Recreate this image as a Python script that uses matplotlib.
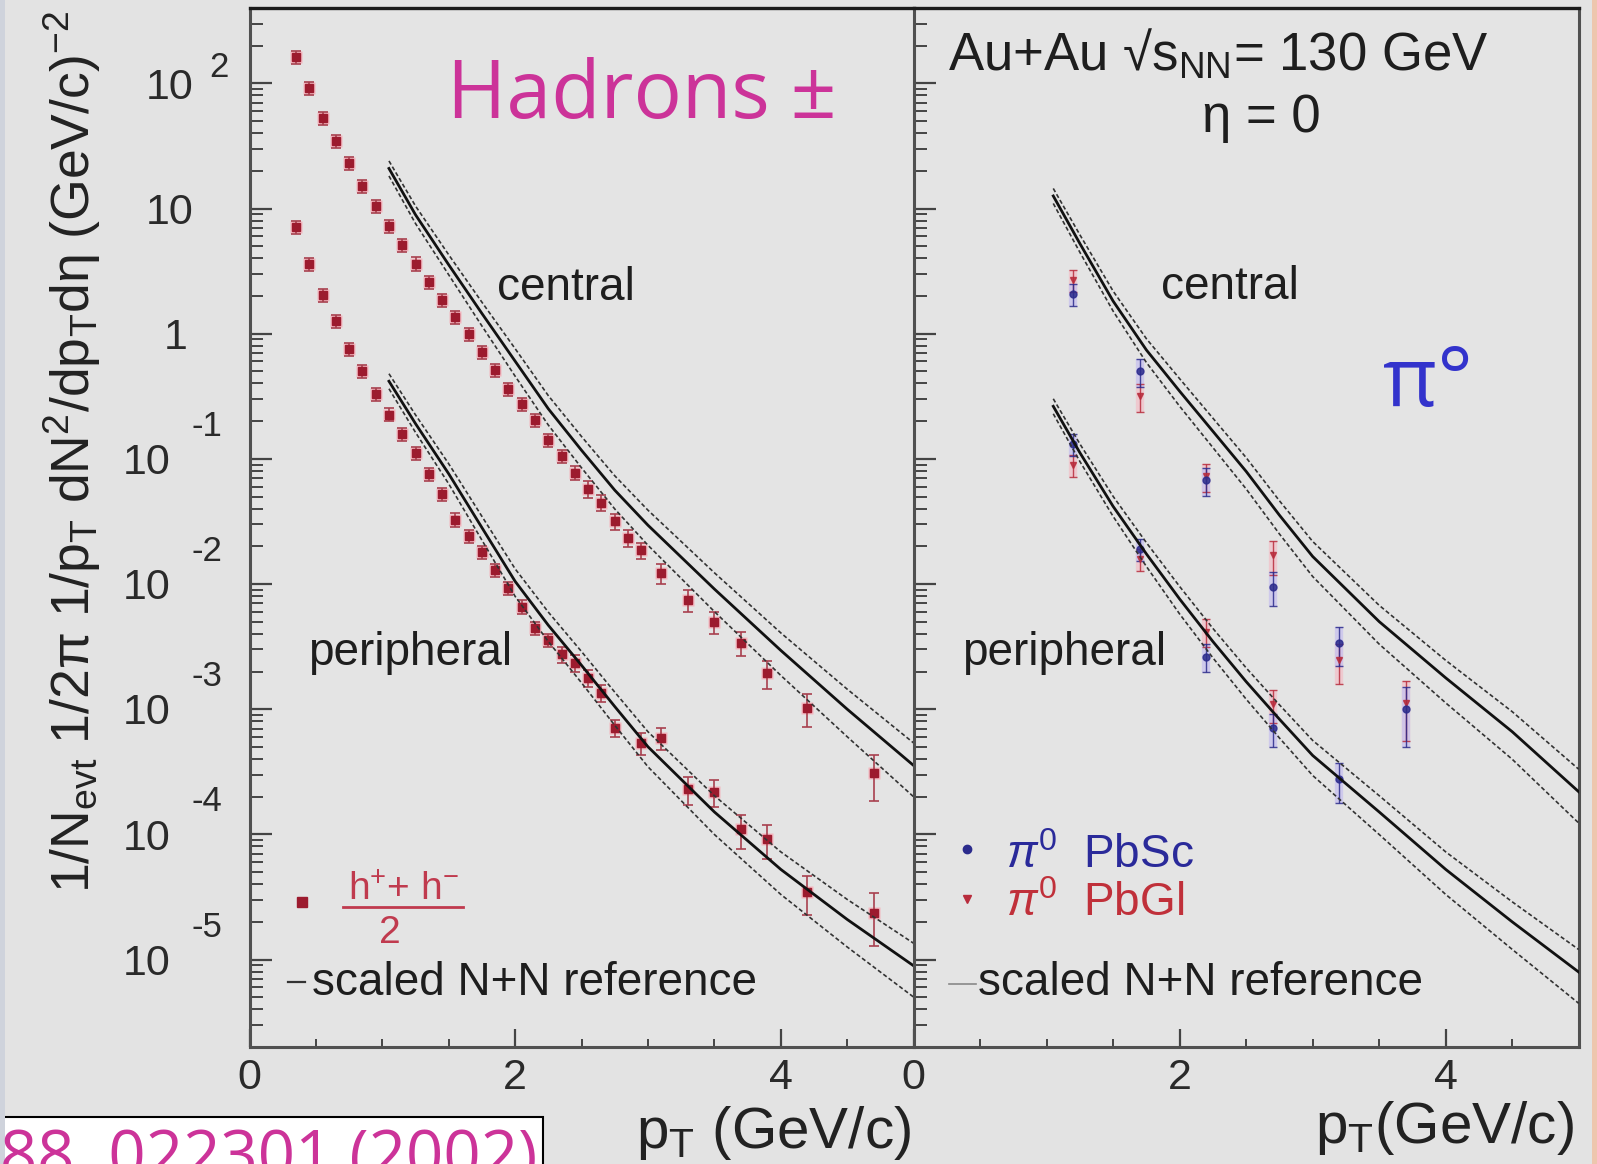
import numpy as np
import matplotlib
matplotlib.use("Agg")
import matplotlib.pyplot as plt
import matplotlib.transforms as mtransforms
from matplotlib.ticker import FixedLocator, MultipleLocator, LogLocator, NullFormatter
from matplotlib.patches import Rectangle
from matplotlib.lines import Line2D

plt.rcParams['font.family'] = ['Liberation Sans', 'DejaVu Sans']
plt.rcParams['mathtext.fontset'] = 'custom'
plt.rcParams['mathtext.rm'] = 'Liberation Sans'
plt.rcParams['mathtext.it'] = 'Liberation Sans:italic'
plt.rcParams['mathtext.bf'] = 'Liberation Sans:bold'

# (h+ + h-)/2 yields, central collisions
h_pt_cen = [0.35, 0.45, 0.55, 0.65, 0.75, 0.85, 0.95, 1.05, 1.15, 1.25, 1.35, 1.45,
            1.55, 1.65, 1.75, 1.85, 1.95, 2.05, 2.15, 2.25, 2.35, 2.45, 2.55, 2.65,
            2.75, 2.85, 2.95, 3.1, 3.3, 3.5, 3.7, 3.9, 4.2, 4.7]
h_cen = [162, 91.2, 52.5, 34.7, 22.9, 15.1, 10.5, 7.24, 5.13, 3.63, 2.57, 1.86,
         1.35, 1.00, 0.716, 0.513, 0.363, 0.275, 0.204, 0.141, 0.105, 0.0776, 0.0575, 0.0447,
         0.0316, 0.0234, 0.0186, 0.0123, 0.00741, 0.00501, 0.00339, 0.00195, 0.00102, 0.000309]
h_cen_err = [0.12] * 22 + [0.15] * 5 + [0.18, 0.2, 0.2, 0.22, 0.25, 0.3, 0.4]

# (h+ + h-)/2 yields, peripheral collisions
h_pt_per = [0.35, 0.45, 0.55, 0.65, 0.75, 0.85, 0.95, 1.05, 1.15, 1.25, 1.35, 1.45,
            1.55, 1.65, 1.75, 1.85, 1.95, 2.05, 2.15, 2.25, 2.35, 2.45, 2.55, 2.65,
            2.75, 2.95, 3.1, 3.3, 3.5, 3.7, 3.9, 4.2, 4.7]
h_per = [7.08, 3.59, 2.04, 1.26, 0.759, 0.501, 0.331, 0.226, 0.158, 0.112, 0.075, 0.0525,
         0.0327, 0.0243, 0.0180, 0.0129, 0.0093, 0.0066, 0.00447, 0.00355, 0.00275, 0.00234, 0.00178, 0.00135,
         0.000708, 0.000537, 0.000589, 0.000229, 0.000219, 0.00011, 9.1e-5, 3.47e-5, 2.34e-5]
h_per_err = [0.12] * 20 + [0.15] * 5 + [0.2, 0.2, 0.25, 0.25, 0.3, 0.3, 0.35, 0.45]

# pi0 yields (PbSc / PbGl calorimeters)
pi_pt = [1.2, 1.7, 2.2, 2.7, 3.2, 3.7]
pbsc_cen = [2.09, 0.501, 0.0676, 0.00955, 0.00339, 0.00100]
pbgl_cen = [2.69, 0.316, 0.0724, 0.0170, 0.00245, 0.00112]
pi_cen_err = [0.2, 0.25, 0.25, 0.3, 0.35, 0.5]
pbsc_per = [0.132, 0.0191, 0.00263, 0.000708, 0.000275]
pbgl_per = [0.0891, 0.0158, 0.00417, 0.00110]
pi_per_err = [0.2, 0.2, 0.25, 0.3, 0.35]

# scaled N+N reference curves and their band (in decades)
ref_pt = [1.05, 1.25, 1.5, 1.75, 2.0, 2.25, 2.5, 2.75, 3.0, 3.5, 4.0, 4.5, 5.0]
h_ref_cen = [20.9, 8.91, 3.55, 1.45, 0.603, 0.251, 0.117, 0.0562, 0.0295, 0.00912, 0.00295, 0.001, 0.000355]
h_ref_per = [0.417, 0.191, 0.0759, 0.0282, 0.0105, 0.00468, 0.00224, 0.00105, 0.000501, 0.000151, 5.25e-5, 2.09e-5, 8.91e-6]
pi_ref_cen = [12.6, 5.25, 1.82, 0.741, 0.347, 0.166, 0.0794, 0.0355, 0.0166, 0.00501, 0.00178, 0.000661, 0.000219]
pi_ref_per = [0.263, 0.112, 0.0417, 0.0174, 0.00759, 0.00347, 0.00166, 0.000832, 0.000427, 0.000151, 5.25e-5, 2.0e-5, 7.94e-6]
band_up = [0.06, 0.07, 0.08, 0.09, 0.10, 0.105, 0.11, 0.115, 0.12, 0.13, 0.14, 0.16, 0.18]
band_lo = [0.06, 0.07, 0.08, 0.10, 0.12, 0.13, 0.14, 0.15, 0.16, 0.18, 0.20, 0.22, 0.25]

# y tick labels drawn by hand (big detached exponents)
ytick_vals = [1e2, 1e1, 1e0, 1e-1, 1e-2, 1e-3, 1e-4, 1e-5]
ytick_base = ['10', '10', '1', '10', '10', '10', '10', '10']
ytick_exp = ['2', '', '', '-1', '-2', '-3', '-4', '-5']

W, H = 1597.0, 1164.0
def fx(px):
    return px / W
def fy(py):
    return 1 - py / H

fig = plt.figure(figsize=(W / 100, H / 100), dpi=100)
fig.patch.set_facecolor('#e3e3e3')

ax_h = fig.add_axes([fx(249.5), fy(1047), (913.6 - 249.5) / W, 1039 / H])
ax_p = fig.add_axes([fx(913.6), fy(1047), (1578.7 - 913.6) / W, 1039 / H])

for ax in (ax_h, ax_p):
    ax.set_facecolor('#e4e4e4')
    ax.set_yscale('log')
    ax.set_xlim(0, 5)
    ax.set_ylim(2.0e-6, 400)
    ax.xaxis.set_major_locator(FixedLocator([0, 2, 4]))
    ax.xaxis.set_minor_locator(MultipleLocator(0.5))
    ax.yaxis.set_major_locator(LogLocator(base=10, numticks=20))
    ax.yaxis.set_minor_locator(LogLocator(base=10, subs=np.arange(2, 10), numticks=20))
    ax.yaxis.set_major_formatter(NullFormatter())
    ax.yaxis.set_minor_formatter(NullFormatter())
    ax.tick_params(axis='y', which='major', direction='in', length=16, width=1.6,
                   color='#444444', left=True, right=False, labelleft=False)
    ax.tick_params(axis='y', which='minor', direction='in', length=9, width=1.4,
                   color='#444444', left=True, right=False)
    ax.tick_params(axis='x', which='major', direction='in', length=13, width=1.6,
                   color='#444444', labelsize=31, pad=8, labelcolor='#2a2a2a')
    ax.tick_params(axis='x', which='minor', direction='in', length=6, width=1.4, color='#444444')
    ax.spines['top'].set_color('#1a1a1a')
    ax.spines['top'].set_linewidth(2.4)
    for s in ('left', 'bottom', 'right'):
        ax.spines[s].set_color('#505050')
        ax.spines[s].set_linewidth(2.2)
ax_h.spines['right'].set_visible(False)


def draw_ref(ax, ref):
    ref = np.array(ref)
    up = ref * 10 ** np.array(band_up)
    lo = ref / 10 ** np.array(band_lo)
    ax.plot(ref_pt, up, color='#333333', lw=1.2, dashes=(2.5, 1.5), zorder=5)
    ax.plot(ref_pt, lo, color='#333333', lw=1.2, dashes=(2.5, 1.5), zorder=5)
    ax.plot(ref_pt, ref, color='#111111', lw=2.0, zorder=6)


def draw_hadrons(ax, pt, y, err):
    y = np.array(y)
    e = np.array(err) * y
    ax.plot(pt, y, 's', ms=9, color='#f3b5be', mec='none', zorder=3)
    ax.errorbar(pt, y, yerr=e, fmt='s', ms=5.5, color='#9c1b2e', mec='#9c1b2e',
                ecolor='#a8404e', elinewidth=1.2, capsize=3.5, capthick=1.2, zorder=4)


def draw_pi0(ax, pt, y, err, marker, col, halo):
    y = np.array(y)
    e = np.array(err) * y
    ax.errorbar(pt, y, yerr=e, fmt='none', ecolor=halo, elinewidth=6, alpha=0.8, zorder=3)
    ax.errorbar(pt, y, yerr=e, fmt=marker, ms=5, color=col, mec=col, ecolor=col,
                elinewidth=1.0, capsize=3, capthick=1.0, alpha=0.85, zorder=4)


# left panel: charged hadrons
draw_hadrons(ax_h, h_pt_cen, h_cen, h_cen_err)
draw_hadrons(ax_h, h_pt_per, h_per, h_per_err)
draw_ref(ax_h, h_ref_cen)
draw_ref(ax_h, h_ref_per)

# right panel: neutral pions
draw_pi0(ax_p, pi_pt, pbgl_cen, pi_cen_err, 'v', '#b82c3c', '#f1c3ca')
draw_pi0(ax_p, pi_pt, pbsc_cen, pi_cen_err, 'o', '#2b2b8c', '#c9c3ee')
draw_pi0(ax_p, pi_pt[:4], pbgl_per, pi_per_err[:4], 'v', '#b82c3c', '#f1c3ca')
draw_pi0(ax_p, pi_pt[:5], pbsc_per, pi_per_err, 'o', '#2b2b8c', '#c9c3ee')
draw_ref(ax_p, pi_ref_cen)
draw_ref(ax_p, pi_ref_per)

# y tick labels
ytr = ax_h.get_yaxis_transform()
for v, b, e in zip(ytick_vals, ytick_base, ytick_exp):
    if e.startswith('-'):
        bx, ex, ey = -57.2, -41.8, 16.5
    elif b == '1':
        bx, ex, ey = -44.3, 0, 0
    else:
        bx, ex, ey = -40.3, -29.2, 4.7
    tb = mtransforms.offset_copy(ytr, fig=fig, x=bx, y=-11, units='points')
    ax_h.text(0, v, b, transform=tb, ha='right', va='baseline', fontsize=31, color='#2a2a2a')
    if e:
        te = mtransforms.offset_copy(ytr, fig=fig, x=ex, y=ey, units='points')
        ax_h.text(0, v, e, transform=te, ha='left', va='baseline', fontsize=25, color='#2a2a2a')

# axis titles
fig.text(fx(90), fy(893),
         r'1/N$_{\mathregular{evt}}$ 1/2π 1/p$_{\mathregular{T}}$ dN$^{\mathregular{2}}$/dp$_{\mathregular{T}}$dη (GeV/c)$^{\mathregular{-2}}$',
         rotation=90, rotation_mode='anchor', ha='left', va='baseline', fontsize=38.5, color='#222222')
fig.text(fx(911), fy(1148), r'p$_{\mathregular{T}}$ (GeV/c)', ha='right', va='baseline',
         fontsize=42, color='#222222')
fig.text(fx(1574), fy(1143), r'p$_{\mathregular{T}}$(GeV/c)', ha='right', va='baseline',
         fontsize=42, color='#222222')

# panel annotations
txt = '#1e1e1e'
fig.text(fx(497), fy(300), 'central', fontsize=33, color=txt, va='baseline')
fig.text(fx(1161), fy(299), 'central', fontsize=33, color=txt, va='baseline')
fig.text(fx(308), fy(665), 'peripheral', fontsize=33, color=txt, va='baseline')
fig.text(fx(962), fy(665), 'peripheral', fontsize=33, color=txt, va='baseline')
fig.text(fx(948), fy(71), r'Au+Au √s$_{\mathregular{NN}}$= 130 GeV', fontsize=38, color=txt, va='baseline')
fig.text(fx(1261), fy(132), 'η = 0', fontsize=38, color=txt, va='baseline', ha='center')

# left legend
fig.add_artist(Line2D([fx(301.7)], [fy(902)], marker='s', ms=7, color='#9c1b2e', ls='none'))
fig.text(fx(404), fy(900), r'h$^{\mathregular{+}}$+ h$^{\mathregular{-}}$', fontsize=28,
         color='#c03a4e', ha='center', va='baseline')
fig.add_artist(Line2D([fx(343), fx(463)], [fy(907), fy(907)], color='#c03a4e', lw=2))
fig.text(fx(390), fy(943), '2', fontsize=28, color='#c03a4e', ha='center', va='baseline')
fig.add_artist(Line2D([fx(288), fx(305)], [fy(982), fy(982)], color='#333333', lw=1.6))
fig.text(fx(312), fy(995), 'scaled N+N reference', fontsize=33, color=txt, va='baseline')

# right legend
fig.add_artist(Line2D([fx(967)], [fy(849)], marker='o', ms=6, color='#2b2b8c', ls='none'))
fig.add_artist(Line2D([fx(967)], [fy(899)], marker='v', ms=6, color='#b82c3c', ls='none'))
fig.text(fx(1006), fy(868), r'$\pi^{\mathregular{0}}$  PbSc', fontsize=33, color='#2a2a9a', va='baseline')
fig.text(fx(1006), fy(916), r'$\pi^{\mathregular{0}}$  PbGl', fontsize=33, color='#c0303a', va='baseline')
fig.add_artist(Line2D([fx(949), fx(976)], [fy(984), fy(984)], color='#888888', lw=1.2))
fig.text(fx(978), fy(995), 'scaled N+N reference', fontsize=33, color=txt, va='baseline')

# handwritten-style labels
fig.text(fx(447), fy(118), 'Hadrons ±', fontsize=58, color='#cc3399',
         family=['Open Sans', 'DejaVu Sans'], va='baseline')
fig.text(fx(1383), fy(406), 'π°', fontsize=60, color='#3333cc',
         family=['Open Sans', 'DejaVu Sans'], va='baseline')

# reference box at the bottom left
fig.add_artist(Rectangle((fx(-5), fy(1175)), 548 / W, (1175 - 1117) / H,
                         transform=fig.transFigure, facecolor='white', edgecolor='black', lw=1.5))
fig.text(fx(537), fy(1177), '88, 022301 (2002)', fontsize=47, color='#cc3399',
         family=['Open Sans', 'DejaVu Sans'], ha='right', va='baseline')

# scan edges
fig.add_artist(Rectangle((0, 0), 5 / W, 1, transform=fig.transFigure, color='#cfd3dc', lw=0))
fig.add_artist(Rectangle((1592 / W, 0), 5 / W, 1, transform=fig.transFigure, color='#eec6ae', lw=0))

fig.savefig('out.png', dpi=100, facecolor=fig.get_facecolor())
